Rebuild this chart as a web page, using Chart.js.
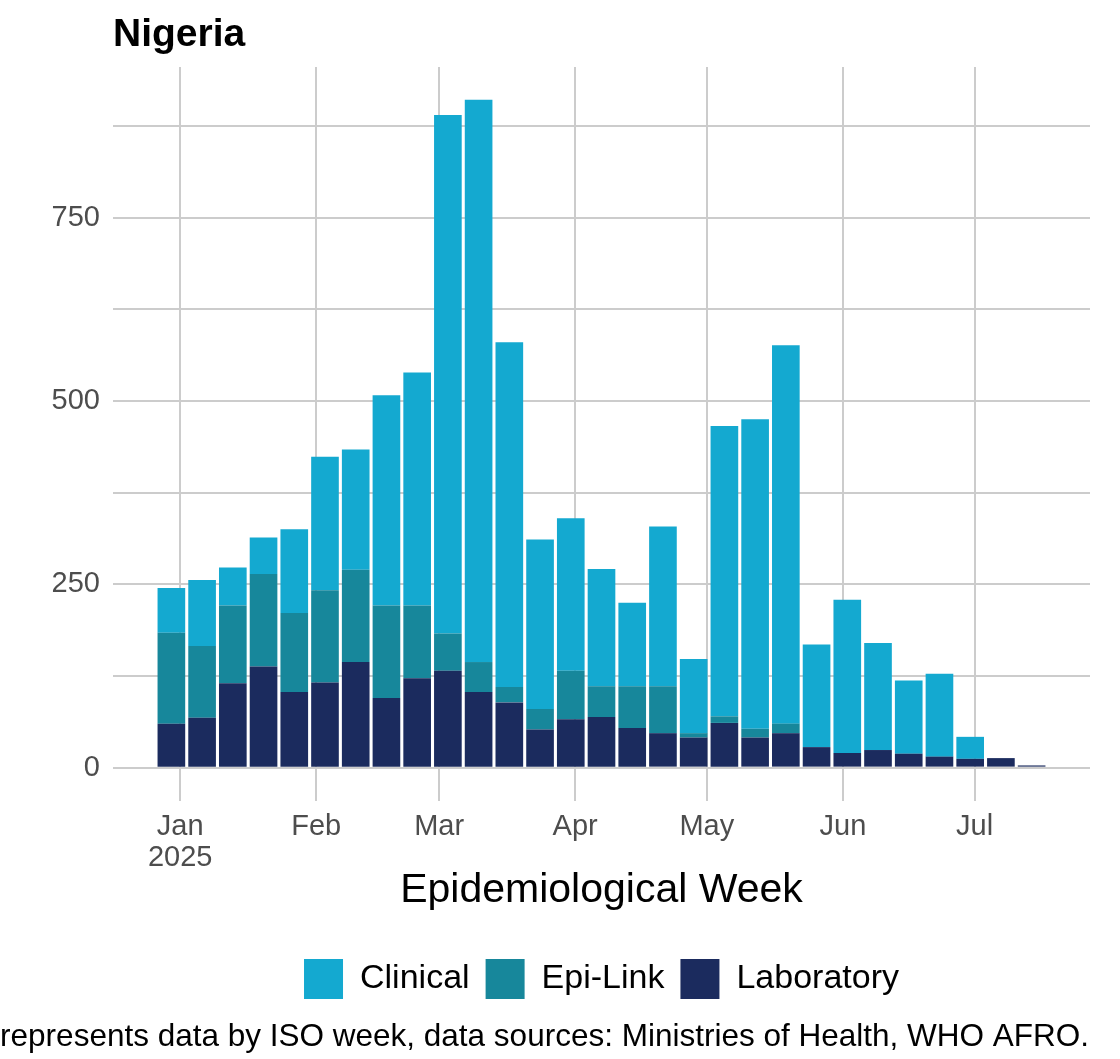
<!DOCTYPE html>
<html>
<head>
<meta charset="utf-8">
<title>Nigeria</title>
<script src="https://cdn.jsdelivr.net/npm/chart.js@4.4.1/dist/chart.umd.min.js"></script>
<style>
  body { margin: 0; background: #fff; }
  canvas { display: block; }
</style>
</head>
<body>
<canvas id="myChart" width="1120" height="1059"></canvas>
<script>
// ISO week start dates (Mondays)
const weeks = ['2024-12-30', '2025-01-06', '2025-01-13', '2025-01-20', '2025-01-27',
    '2025-02-03', '2025-02-10', '2025-02-17', '2025-02-24', '2025-03-03',
    '2025-03-10', '2025-03-17', '2025-03-24', '2025-03-31', '2025-04-07',
    '2025-04-14', '2025-04-21', '2025-04-28', '2025-05-05', '2025-05-12',
    '2025-05-19', '2025-05-26', '2025-06-02', '2025-06-09', '2025-06-16',
    '2025-06-23', '2025-06-30', '2025-07-07', '2025-07-14'];

const laboratory = [60, 68, 115, 138, 103, 116, 144, 95, 122, 132, 103, 89, 52, 66, 69,
    54, 47, 41, 61, 41, 47, 28, 20, 24, 19, 15, 12, 13, 3];
const epiLink = [124, 98, 106, 126, 108, 126, 126, 126, 99, 51, 41, 21, 28, 66, 42,
    57, 64, 6, 9, 12, 13, 0, 0, 0, 0, 0, 0, 0, 0];
const clinical = [61, 90, 52, 50, 114, 182, 164, 287, 318, 707, 767, 470, 231, 208, 160,
    114, 218, 101, 396, 422, 516, 140, 209, 146, 100, 113, 30, 0, 0];

const monthTicks = ['2025-01-01', '2025-02-01', '2025-03-01', '2025-04-01', '2025-05-01', '2025-06-01', '2025-07-01'];
const monthLabels = [['Jan', '2025'], 'Feb', 'Mar', 'Apr', 'May', 'Jun', 'Jul'];

const yTicks = [0, 125, 250, 375, 500, 625, 750, 875];
const yLabels = ['0', '', '250', '', '500', '', '750', ''];

const caption = 'This chart represents data by ISO week, data sources: Ministries of Health, WHO AFRO.';

// days since 1 Jan 2025
function dayOf(s) {
    const p = s.split('-');
    return (Date.UTC(+p[0], +p[1] - 1, +p[2]) - Date.UTC(2025, 0, 1)) / 86400000;
}
const weekDays = weeks.map(dayOf);
const monthDays = monthTicks.map(dayOf);

function points(values) {
    return values.map((v, i) => ({ x: weekDays[i], y: v }));
}

const FONT = "'Liberation Sans', Arial, sans-serif";

const textPlugin = {
    id: 'texts',
    afterDraw(chart) {
        const c = chart.ctx;
        c.save();
        c.fillStyle = '#000';
        c.textBaseline = 'alphabetic';
        c.textAlign = 'left';
        c.font = 'bold 39px ' + FONT;
        c.fillText('Nigeria', 113, 46);
        c.textAlign = 'right';
        c.font = '31.5px ' + FONT;
        c.fillText(caption, 1089, 1046);
        c.restore();
    }
};

const ctx = document.getElementById('myChart');
const myChart = new Chart(ctx, {
    type: 'bar',
    data: {
        datasets: [
            { label: 'Laboratory', data: points(laboratory), backgroundColor: '#1B2B5E' },
            { label: 'Epi-Link', data: points(epiLink), backgroundColor: '#17879B' },
            { label: 'Clinical', data: points(clinical), backgroundColor: '#14A9D0' }
        ]
    },
    options: {
        responsive: false,
        animation: false,
        devicePixelRatio: 1,
        datasets: { bar: { barPercentage: 0.9, categoryPercentage: 1, borderWidth: 0 } },
        layout: { padding: { top: 67, left: 0, right: 30, bottom: 50 } },
        scales: {
            x: {
                type: 'linear',
                stacked: true,
                offset: false,
                min: -15.3,
                max: 207.3,
                afterBuildTicks: s => { s.ticks = monthDays.map(v => ({ value: v })); },
                afterFit: s => { s.height = 142; },
                grid: { color: '#cccccc', lineWidth: 2, drawTicks: false, offset: false },
                border: { display: false },
                ticks: {
                    autoSkip: false,
                    maxRotation: 0,
                    padding: 10,
                    color: '#4D4D4D',
                    font: { family: FONT, size: 29, lineHeight: 1.07 },
                    callback: v => monthLabels[monthDays.indexOf(v)]
                },
                title: {
                    display: true,
                    text: 'Epidemiological Week',
                    color: '#000',
                    font: { family: FONT, size: 41 },
                    padding: { top: 0, bottom: 28 }
                }
            },
            y: {
                stacked: true,
                min: -45.5,
                max: 955.5,
                afterBuildTicks: s => { s.ticks = yTicks.map(v => ({ value: v })); },
                afterFit: s => { s.width = 113; },
                grid: { color: '#cccccc', lineWidth: 2, drawTicks: false },
                border: { display: false },
                ticks: {
                    autoSkip: false,
                    padding: 13,
                    color: '#4D4D4D',
                    font: { family: FONT, size: 29 },
                    callback: v => yLabels[yTicks.indexOf(v)]
                }
            }
        },
        plugins: {
            title: { display: false },
            tooltip: { enabled: false },
            legend: {
                position: 'bottom',
                fullSize: false,
                reverse: true,
                labels: {
                    boxWidth: 39,
                    boxHeight: 40,
                    padding: 16,
                    color: '#000',
                    font: { family: FONT, size: 34 }
                }
            }
        }
    },
    plugins: [textPlugin]
});
</script>
</body>
</html>
